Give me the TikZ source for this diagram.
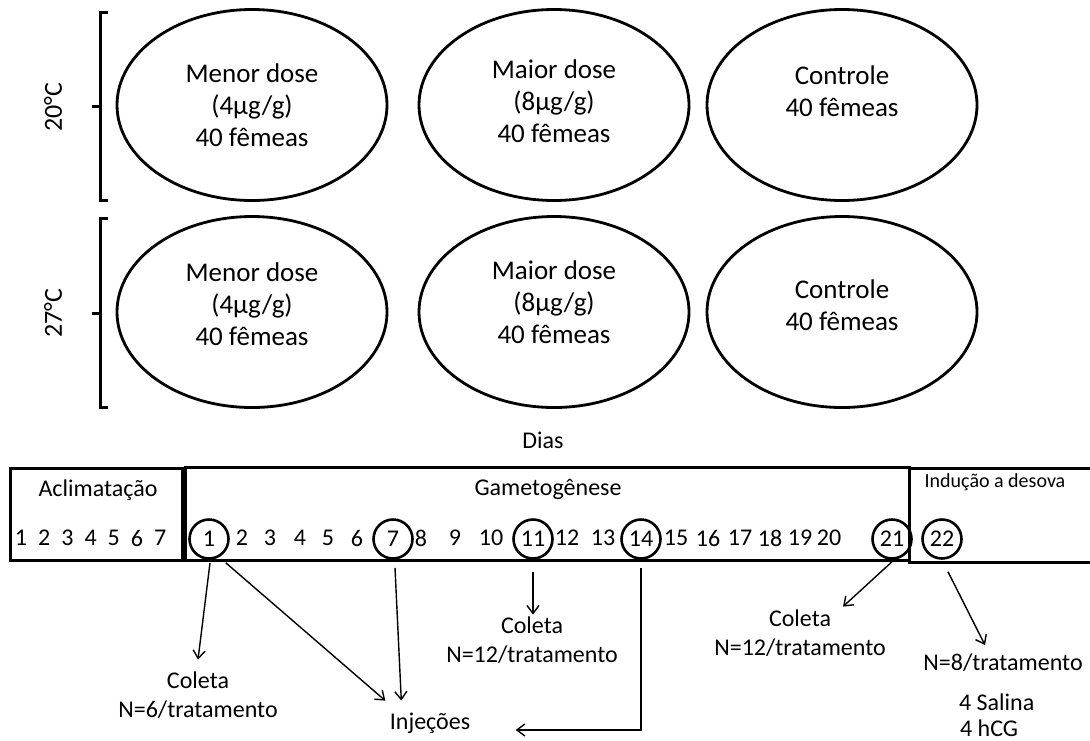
\documentclass[tikz,border=0pt]{standalone}
\usepackage{fontspec}
\setmainfont{Carlito}
\usepackage{tikz}
\usetikzlibrary{shapes.geometric,arrows.meta,positioning,calc}
\tikzset{
  oval/.style={draw,ellipse,line width=1.4pt,minimum width=135pt,minimum height=95.5pt},
  dose/.style={align=center,font=\fontsize{13.5}{16}\selectfont},
  rotulo/.style={align=center,font=\fontsize{12}{14.5}\selectfont},
  fase/.style={draw,line width=1.5pt,inner sep=0pt},
  dia/.style={font=\fontsize{12}{14}\selectfont,inner sep=1pt},
  marca/.style={dia,draw,circle,line width=1.3pt,minimum size=19.5pt},
  seta/.style={-{Straight Barb[length=4pt,width=6pt]},line width=0.7pt},
  chave/.style={line width=1.5pt}
}

\begin{document}
\begin{tikzpicture}[x=0.5pt,y=-0.5pt]
  \useasboundingbox (0,0) rectangle (1090,740);

  % temperaturas
  \draw[chave] (108,12) -| (100,200) -- (108,200);
  \draw[chave] (92,106) -- (100,106);
  \node[rotulo,rotate=90,font=\fontsize{13}{15}\selectfont] (t20) at (53,107) {20°C};
  \draw[chave] (108,218) -| (100,407) -- (108,407);
  \draw[chave] (92,313) -- (100,313);
  \node[rotulo,rotate=90,font=\fontsize{13}{15}\selectfont] (t27) at (53,313) {27°C};

  % grupos
  \node[oval] (e11) at (252,105) {};
  \node[oval] (e12) at (554,105) {};
  \node[oval] (e13) at (842,105) {};
  \node[oval] (e21) at (252,312) {};
  \node[oval] (e22) at (554,312) {};
  \node[oval] (e23) at (842,312) {};
  \node[dose] (d11) at (252,105) {Menor dose\\(4µg/g)\\40 fêmeas};
  \node[dose] (d12) at (554,101) {Maior dose\\(8µg/g)\\40 fêmeas};
  \node[dose] (d13) at (842,91) {Controle\\40 fêmeas};
  \node[dose] (d21) at (252,304) {Menor dose\\(4µg/g)\\40 fêmeas};
  \node[dose] (d22) at (554,302) {Maior dose\\(8µg/g)\\40 fêmeas};
  \node[dose] (d23) at (842,305) {Controle\\40 fêmeas};

  % linha do tempo
  \node[rotulo] (dias) at (543,440) {Dias};
  \node[fase,minimum width=86pt,minimum height=46pt] (aclim) at (96,514) {};
  \node[fase,minimum width=362pt,minimum height=46.5pt] (gamet) at (547,513.5) {};
  \draw[line width=1.5pt] (1090,468) -| (909,562) -- (1090,562);
  \node[dia] (taclim) at (98,490) {Aclimatação};
  \node[dia] (tgamet) at (548,489) {Gametogênese};
  \node[dia,font=\fontsize{10}{12}\selectfont] (tinduc) at (995,482) {Indução a desova};

  \foreach \n in {1,...,7}
    \node[dia] (a\n) at ({21+23.2*(\n-1)},538) {\n};
  \foreach \n/\x in {2/242,3/270,4/300,5/328,6/357,8/421,9/455,10/491,12/567,13/603,
                     15/676,16/708,17/740,18/770,19/800,20/829}
    \node[dia] (g\n) at (\x,538) {\n};
  \foreach \n/\x in {1/209,7/393,11/533,14/641,21/892,22/942}
    \node[marca] (g\n) at (\x,539) {\n};

  % coletas e injecoes
  \node[rotulo] (c6) at (198,695) {Coleta\\N=6/tratamento};
  \node[rotulo] (inj) at (430,723) {Injeções};
  \node[rotulo] (c11) at (532,640) {Coleta\\N=12/tratamento};
  \node[rotulo] (c21) at (800,633) {Coleta\\N=12/tratamento};
  \node[rotulo] (n8) at (1003,663) {N=8/tratamento};
  \node[rotulo,anchor=west] (sal) at (952,702) {4 Salina};
  \node[rotulo,anchor=west] (hcg) at (953,728) {4 hCG};

  \draw[seta] ($(g1.south)+(1,3)$) -- ($(c6.north)+(0,-5)$);
  \draw[seta] ($(g1.south east)+(2,9)$) -- ($(inj.north west)+(2.5,-5)$);
  \draw[seta] ($(g7.south)+(2,8)$) -- ($(inj.north west)+(18.5,-5)$);
  \draw[seta] ($(g11.south)+(0,12)$) -- ($(c11.north)+(1,5)$);
  \draw[seta] ($(g14.south)+(0,8)$) |- ($(inj.east)+(38.5,7)$);
  \draw[seta] ($(g21.south)+(1,1)$) -- ($(c21.north)+(43,4)$);
  \draw[seta] ($(g22.south)+(6,12)$) -- ($(n8.north)+(-18,-2)$);
\end{tikzpicture}
\end{document}
